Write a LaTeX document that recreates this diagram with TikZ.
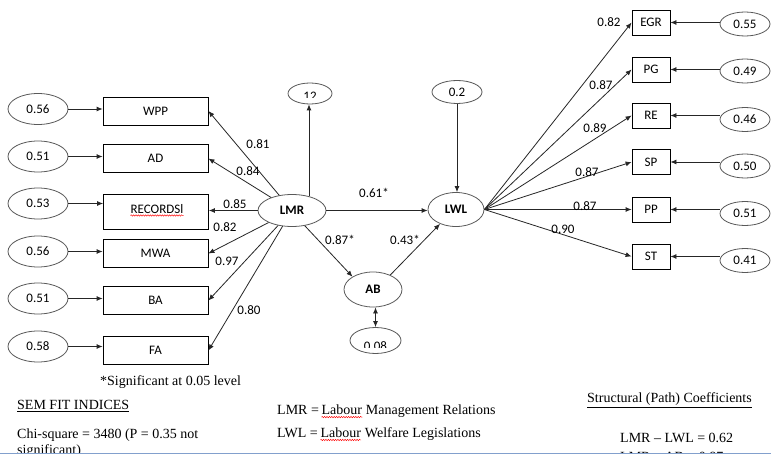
\documentclass[tikz,border=0pt]{standalone}
\usepackage{fontspec}
\setmainfont{Liberation Serif}
\newfontfamily\calib{Carlito}
\usetikzlibrary{arrows.meta,shapes.geometric,decorations.pathmorphing}

\tikzset{
  lab/.style={font=\calib\fontsize{13}{15}\selectfont},
  obs/.style={draw=black, rectangle, inner sep=0pt, line width=0.8pt, lab},
  lbox/.style={obs, minimum width=105pt, minimum height=28pt},
  rbox/.style={obs, minimum width=38pt, minimum height=25pt},
  err/.style={draw=black!65, ellipse, inner sep=0pt, line width=0.8pt, lab},
  lerr/.style={err, minimum width=60pt, minimum height=31pt},
  rerr/.style={err, minimum width=50pt, minimum height=24pt},
  lat/.style={draw=black!65, ellipse, inner sep=0pt, line width=0.8pt,
              font=\calib\bfseries\fontsize{13}{15}\selectfont},
  coef/.style={lab, inner sep=1pt},
  arr/.style={draw=black!85, line width=0.8pt, -{Latex[length=6pt,width=5pt]}},
  dbl/.style={draw=black!85, line width=0.8pt, {Latex[length=6pt,width=5pt]}-{Latex[length=6pt,width=5pt]}},
  note/.style={anchor=west, inner sep=0pt, font=\fontsize{14}{16}\selectfont},
  notecont/.style={anchor=base west, inner sep=0pt, font=\fontsize{14}{16}\selectfont},
  wavy/.style={draw=red, line width=0.45pt, decorate,
               decoration={snake, amplitude=0.7pt, segment length=2.4pt}},
}

\begin{document}
\begin{tikzpicture}[x=1pt,y=-1pt]
\useasboundingbox[fill=white] (0,0) rectangle (771,457);

\begin{scope}
\clip (0,0) rectangle (771,453);

% measured indicators of LMR
\node[lbox] (wpp) at (155.5,111)   {WPP};
\node[lbox] (ad)  at (155.5,158.5) {AD};
\node[lbox, minimum height=35pt] (rec) at (156,211.5) {};
\node[lab, inner sep=0pt] (rectxt) at (157,209) {RECORDSl};
\node[lbox] (mwa) at (155.5,253.5) {MWA};
\node[lbox] (ba)  at (155.5,300.5) {BA};
\node[lbox] (fa)  at (155.5,350.5) {FA};
\draw[wavy] ([yshift=-2pt]rectxt.base west) -- ([yshift=-2pt]rectxt.base east);

% their error terms
\node[lerr] (e1) at (38,109)   {0.56};
\node[lerr] (e2) at (38,156.5) {0.51};
\node[lerr] (e3) at (38,203.5) {0.53};
\node[lerr] (e4) at (38,251.5) {0.56};
\node[lerr] (e5) at (38,298.5) {0.51};
\node[lerr] (e6) at (38,346.5) {0.58};

\foreach \e/\b in {e1/wpp,e2/ad,e3/rec,e4/mwa,e5/ba,e6/fa}
  \draw[arr] (\e.east) -- (\e.east -| \b.west);

% latent variables
\node[lat, minimum width=68pt, minimum height=32pt] (lmr) at (292,210.5) {LMR};
\node[lat, minimum width=56pt, minimum height=34pt] (lwl) at (456,209.5) {LWL};
\node[lat, minimum width=58pt, minimum height=35pt] (ab)  at (373,289.5) {AB};

% disturbance terms
\node[err, minimum width=44pt, minimum height=21pt] (e12) at (310,93.5) {};
\node[err, minimum width=50pt, minimum height=23pt] (e02) at (457,92) {0.2};
\node[err, minimum width=51pt, minimum height=26pt] (e008) at (375.5,340.5) {};
\begin{scope}
  \clip (280,80) rectangle (340,97.5);
  \node[lab, inner sep=0pt] (t12) at (310,96.5) {12};
\end{scope}
\begin{scope}
  \clip (345,330) rectangle (405,347.5);
  \node[lab, inner sep=0pt] (t008) at (375.5,346.5) {0.08};
\end{scope}

% LMR loadings
\draw[arr] (lmr) -- (wpp.east);
\draw[arr] (lmr) -- (ad.east);
\draw[arr] (lmr.west) -- (lmr.west -| rec.east);
\draw[arr] (lmr) -- (mwa.east);
\draw[arr] (lmr) -- (ba.east);
\draw[arr] (lmr) -- (fa.east);

\node[coef] (c81) at (258,144) {0.81};
\node[coef] (c84) at (248,171) {0.84};
\node[coef] (c85) at (235,204) {0.85};
\node[coef] (c82) at (225,227) {0.82};
\node[coef] (c97) at (227,261) {0.97};
\node[coef] (c80) at (249,310) {0.80};

% structural paths
\draw[arr] (lmr.40) -- (lmr.40 |- e12.south);
\draw[arr] (e02.south) -- (e02.south |- lwl.north);
\draw[arr] (lmr.east) -- (lmr.east -| lwl.west);
\draw[arr] (lmr.-50) -- (ab.148);
\draw[arr] (ab.40) -- (lwl.222);
\draw[dbl] (e008.north) -- (e008.north |- ab.south);

\node[coef] (c61) at (374,193) {0.61*};
\node[coef] (c87) at (340,240) {0.87*};
\node[coef] (c43) at (405,240) {0.43*};

% measured indicators of LWL
\node[rbox] (egr) at (651,22.5)  {EGR};
\node[rbox] (pg)  at (651,69.5)  {PG};
\node[rbox] (re)  at (651,115.5) {RE};
\node[rbox] (sp)  at (651,162)   {SP};
\node[rbox] (pp)  at (651,209.5) {PP};
\node[rbox] (st)  at (651,256.5) {ST};

\node[rerr] (r1) at (745,24)    {0.55};
\node[rerr] (r2) at (745,71)    {0.49};
\node[rerr] (r3) at (745,119.5) {0.46};
\node[rerr] (r4) at (745,166)   {0.50};
\node[rerr] (r5) at (745,213.5) {0.51};
\node[rerr] (r6) at (745,260.5) {0.41};

\foreach \b/\e in {egr/r1,pg/r2,re/r3,sp/r4,pp/r5,st/r6}{
  \draw[arr] (lwl.east) -- (\b.west);
  \draw[arr] (\b.east -| \e.west) -- (\b.east);
}

\node[coef] (d82) at (609,22)  {0.82};
\node[coef] (d87a) at (601,85) {0.87};
\node[coef] (d89) at (595,128) {0.89};
\node[coef] (d87b) at (587,172) {0.87};
\node[coef] (d87c) at (585,206) {0.87};
\node[coef] (d90) at (563,229) {0.90};

% notes below the model
\node[note] (sig)    at (100,382) {*Significant at 0.05 level};
\node[note] (sem)    at (17,406)  {\underline{SEM FIT INDICES}};
\node[note] (lmrdef) at (277,410) {LMR =\,};
\node[notecont] (lab1) at (lmrdef.base east) {Labour};
\node[notecont] (lmrrest) at (lab1.base east) {\ Management Relations};
\node[note] (lwldef) at (277,433) {LWL =\,};
\node[notecont] (lab2) at (lwldef.base east) {Labour};
\node[notecont] (lwlrest) at (lab2.base east) {\ Welfare Legislations};
\draw[wavy] ([yshift=-2.5pt]lab1.base west) -- ([yshift=-2.5pt]lab1.base east);
\draw[wavy] ([yshift=-2.5pt]lab2.base west) -- ([yshift=-2.5pt]lab2.base east);
\node[note] (spc)    at (587,400) {\underline{Structural (Path) Coefficients}};
\node[note] (chi)    at (17,435)  {Chi-square = 3480 (P = 0.35 not};
\node[note] (chi2)   at (17,451)  {significant)};
\node[note] (p1)     at (620,438) {LMR -- LWL = 0.62};
\node[note] (p2)     at (620,457) {LMR -- AB = 0.87};
\end{scope}

\draw[color={rgb,255:red,130;green,160;blue,205}, line width=1.2pt] (0,453.5) -- (771,453.5);
\end{tikzpicture}
\end{document}
